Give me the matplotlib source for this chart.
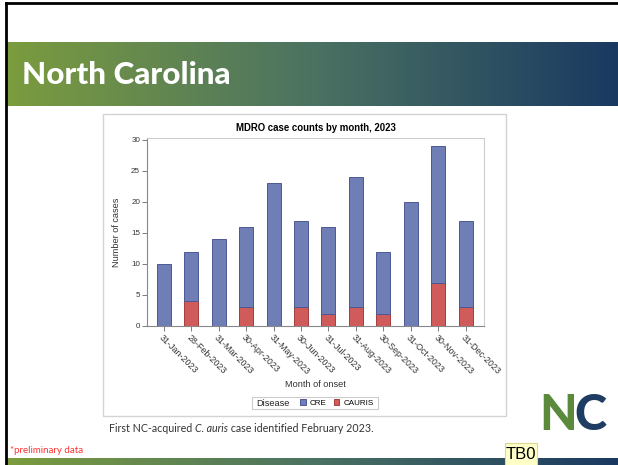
import matplotlib
matplotlib.use("Agg")
import matplotlib.pyplot as plt
import numpy as np
from matplotlib.patches import Rectangle
from matplotlib.colors import LinearSegmentedColormap

# data
months = ['31-Jan-2023', '28-Feb-2023', '31-Mar-2023', '30-Apr-2023', '31-May-2023', '30-Jun-2023',
          '31-Jul-2023', '31-Aug-2023', '30-Sep-2023', '31-Oct-2023', '30-Nov-2023', '31-Dec-2023']
cauris = [0, 4, 0, 3, 0, 3, 2, 3, 2, 0, 7, 3]
cre = [10, 8, 14, 13, 23, 14, 14, 21, 10, 20, 22, 14]
y_ticks = [0, 5, 10, 15, 20, 25, 30]

W, H = 618, 465
fig = plt.figure(figsize=(W / 100, H / 100), dpi=100)
fig.patch.set_facecolor('white')

# background layer in pixel coordinates
bg = fig.add_axes([0, 0, 1, 1])
bg.axis('off')

grad = LinearSegmentedColormap.from_list('band', ['#7B9C3E', '#4B7262', '#1A3961'])
g = np.linspace(0, 1, 256).reshape(1, -1)
bg.imshow(g, cmap=grad, extent=[7, W, 106, 43], aspect='auto')
bg.imshow(g, cmap=grad, extent=[7, W, H, 458], aspect='auto')
bg.set_xlim(0, W)
bg.set_ylim(H, 0)
bg.plot([6, 6], [3, H], color='black', lw=2)
bg.plot([6, W], [3.5, 3.5], color='black', lw=2)

bg.text(22, 75, 'North Carolina', fontfamily='Lato', fontweight='black', fontsize=22.6,
        color='white', va='center', ha='left')

# chart frame
bg.add_patch(Rectangle((103, 114), 403, 302, facecolor='white', edgecolor='#D3D3D3', lw=1))

# footnote with italic species name
fs = 7.65
fig.canvas.draw()
r = fig.canvas.get_renderer()
x = 109
for txt, style in [('First NC-acquired ', 'normal'), ('C. auris', 'italic'),
                   (' case identified February 2023.', 'normal')]:
    t = bg.text(x, 428, txt, fontfamily='Lato', fontstyle=style, fontsize=fs,
                color='#333333', va='center', ha='left')
    bb = t.get_window_extent(renderer=r)
    x += bb.width
bg.text(10, 450, '*preliminary data', fontfamily='Lato', fontsize=7, color='#FF3333',
        va='center', ha='left')
bg.add_patch(Rectangle((505, 443), 32, 25, facecolor='#FFFFC8', edgecolor='#D8D890', lw=0.8,
                       clip_on=False))
bg.text(521, 454, 'TB0', fontfamily='Liberation Sans', fontsize=12, color='black', va='center',
        ha='center')

# NC logo as text
bg.text(558, 415, 'N', fontfamily='Lato', fontweight='black', fontsize=35, color='#5B8A3C',
        va='center', ha='center')
bg.text(590, 415, 'C', fontfamily='Lato', fontweight='black', fontsize=35, color='#1F3D63',
        va='center', ha='center')

# the chart
ax = fig.add_axes([147 / W, 1 - 326 / H, (484 - 147) / W, (326 - 138) / H])
x_pos = np.arange(len(months))
blue, blue_e = '#6F7EB5', '#4C5894'
red, red_e = '#D05B5B', '#A53E3E'
ax.bar(x_pos, cauris, width=0.51, color=red, edgecolor=red_e, lw=0.7, label='CAURIS', zorder=3)
ax.bar(x_pos, cre, width=0.51, bottom=cauris, color=blue, edgecolor=blue_e, lw=0.7, label='CRE',
       zorder=3)

ax.set_xlim(-0.61, len(months) - 1 + 0.67)
ax.set_ylim(0, 30.3)
ax.set_yticks(y_ticks)
ax.set_xticks(x_pos)
ax.set_xticklabels(months, rotation=-45, ha='left', va='top', rotation_mode='anchor',
                   fontfamily='Liberation Sans', fontsize=6.4, color='#333333')
for lab in ax.get_yticklabels():
    lab.set_fontfamily('Liberation Sans')
    lab.set_fontsize(5.8)
    lab.set_color('#333333')
ax.tick_params(axis='both', length=3.5, width=0.6, color='#666666', pad=1.5)
for s in ['left', 'bottom']:
    ax.spines[s].set_color('#888888')
    ax.spines[s].set_linewidth(0.8)
for s in ['top', 'right']:
    ax.spines[s].set_color('#CCCCCC')
    ax.spines[s].set_linewidth(0.8)

ax.set_title('MDRO case counts by month, 2023', fontfamily='Liberation Sans', fontweight='bold',
             fontsize=6.9, pad=5)
ax.set_ylabel('Number of cases', fontfamily='Liberation Sans', fontsize=6.6, color='#333333',
              labelpad=7.5)
ax.set_xlabel('Month of onset', fontfamily='Liberation Sans', fontsize=6.6, color='#333333',
              labelpad=2)

# legend: "Disease" label plus two entries in one frame
bg.add_patch(Rectangle((252, 397), 126, 11.5, facecolor='white', edgecolor='#CCCCCC', lw=0.8))
bg.text(256, 403, 'Disease', fontfamily='Liberation Sans', fontsize=6.6, color='#222222',
        va='center', ha='left')
h, l = ax.get_legend_handles_labels()
leg = ax.legend(h[::-1], l[::-1], ncol=2, frameon=False, loc='center left',
                bbox_to_anchor=(300 / W, 1 - 403 / H), bbox_transform=fig.transFigure,
                prop={'family': 'Liberation Sans', 'size': 5.8}, handlelength=0.7,
                handleheight=0.7, handletextpad=0.5, columnspacing=0.9, borderpad=0, borderaxespad=0)

fig.savefig('out.png', dpi=100)
